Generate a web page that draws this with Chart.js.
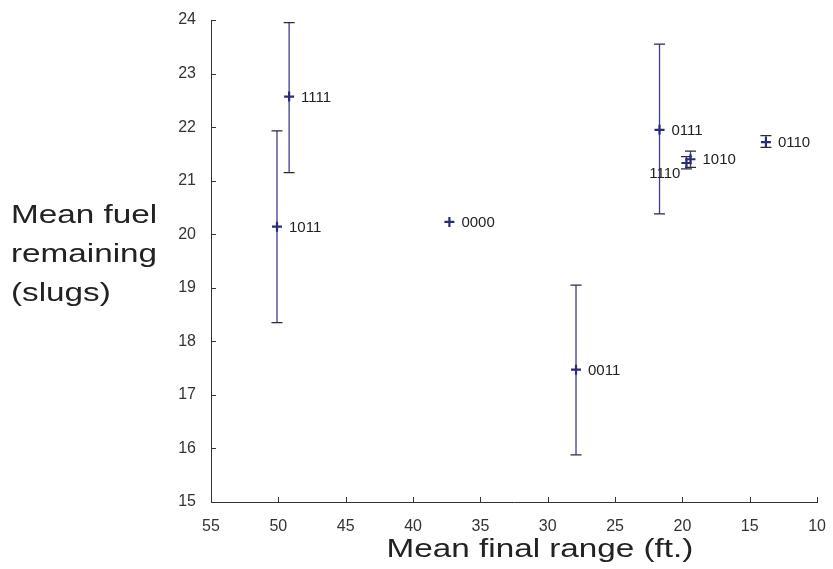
<!DOCTYPE html>
<html>
<head>
<meta charset="utf-8">
<script src="https://cdn.jsdelivr.net/npm/chart.js@4.4.1/dist/chart.umd.min.js"></script>
<style>
  html, body { margin: 0; padding: 0; background: #fff; }
  #wrap { width: 833px; height: 569px; }
</style>
</head>
<body>
<div id="wrap"><canvas id="chart" width="833" height="569"></canvas></div>
<script>
// Designs (bit strings) with mean final range, mean fuel and error bar ends
const designs   = ['1111', '1011', '0000', '0011', '0111', '1110', '1010', '0110'];
const rangeFt   = [49.2, 50.1, 37.3, 27.9, 21.7, 19.7, 19.4, 13.8];
const fuelMean  = [22.57, 20.14, 20.23, 17.47, 21.95, 21.33, 21.40, 21.72];
const fuelLow   = [21.15, 18.35, 20.23, 15.88, 20.38, 21.22, 21.25, 21.62];
const fuelHigh  = [23.95, 21.93, 20.23, 19.05, 23.55, 21.45, 21.55, 21.84];
const labelSide = ['right', 'right', 'right', 'right', 'right', 'left', 'right', 'right'];
const yTitle    = ['Mean fuel', 'remaining', '(slugs)'];
const xTitle    = 'Mean final range (ft.)';

const points = designs.map((d, i) => ({ x: rangeFt[i], y: fuelMean[i] }));

const axisColor = '#333';
const markColor = '#2b2b78';
const titleFont = '25px "Liberation Sans", Arial, sans-serif';

// error bars, inward ticks, point labels and the titles
const errorBars = {
    id: 'errorBars',
    beforeDatasetsDraw(chart) {
        const { ctx, scales: { x, y } } = chart;
        ctx.save();
        designs.forEach((d, i) => {
            if (fuelHigh[i] === fuelLow[i]) return;
            const px = x.getPixelForValue(rangeFt[i]);
            const top = y.getPixelForValue(fuelHigh[i]);
            const bot = y.getPixelForValue(fuelLow[i]);
            ctx.strokeStyle = '#3d3d8a';
            ctx.lineWidth = 1.3;
            ctx.beginPath();
            ctx.moveTo(px, top);
            ctx.lineTo(px, bot);
            ctx.stroke();
            ctx.strokeStyle = '#2a2a3a';
            ctx.beginPath();
            ctx.moveTo(px - 5.5, top); ctx.lineTo(px + 5.5, top);
            ctx.moveTo(px - 5.5, bot); ctx.lineTo(px + 5.5, bot);
            ctx.stroke();
        });
        ctx.restore();
    },
    afterDraw(chart) {
        const { ctx, scales: { x, y }, chartArea } = chart;
        ctx.save();
        // inward ticks
        ctx.strokeStyle = axisColor;
        ctx.lineWidth = 1;
        ctx.beginPath();
        x.ticks.forEach(t => {
            const px = Math.round(x.getPixelForValue(t.value)) + 0.5;
            ctx.moveTo(px, chartArea.bottom);
            ctx.lineTo(px, chartArea.bottom - 5);
        });
        y.ticks.forEach(t => {
            const py = Math.round(y.getPixelForValue(t.value)) + 0.5;
            ctx.moveTo(chartArea.left, py);
            ctx.lineTo(chartArea.left + 5, py);
        });
        ctx.stroke();

        // point labels
        ctx.fillStyle = '#222';
        ctx.font = '15px "Liberation Sans", Arial, sans-serif';
        ctx.textBaseline = 'middle';
        designs.forEach((d, i) => {
            const px = x.getPixelForValue(rangeFt[i]);
            const py = y.getPixelForValue(fuelMean[i]);
            if (labelSide[i] === 'left') {
                ctx.textAlign = 'right';
                ctx.fillText(d, px - 6, py + 11);
            } else {
                ctx.textAlign = 'left';
                ctx.fillText(d, px + 12, py + 1);
            }
        });

        // titles, stretched sideways like the source
        ctx.fillStyle = '#222';
        ctx.font = titleFont;
        ctx.textBaseline = 'alphabetic';
        ctx.textAlign = 'left';
        yTitle.forEach((line, k) => {
            ctx.save();
            ctx.translate(11, 223 + k * 39);
            ctx.scale(1.33, 1);
            ctx.fillText(line, 0, 0);
            ctx.restore();
        });
        ctx.save();
        ctx.translate(540, 557);
        ctx.scale(1.33, 1);
        ctx.textAlign = 'center';
        ctx.fillText(xTitle, 0, 0);
        ctx.restore();
        ctx.restore();
    }
};

const tickFont = { family: '"Liberation Sans", Arial, sans-serif', size: 16 };

new Chart(document.getElementById('chart').getContext('2d'), {
    type: 'scatter',
    data: {
        datasets: [{
            data: points,
            pointStyle: 'cross',
            pointRadius: 5,
            pointBorderWidth: 2.2,
            borderColor: markColor,
            backgroundColor: markColor,
            pointHoverRadius: 5
        }]
    },
    options: {
        responsive: false,
        animation: false,
        layout: { padding: { left: 0, right: 10, top: 20, bottom: 0 } },
        plugins: {
            legend: { display: false },
            tooltip: { enabled: false }
        },
        scales: {
            x: {
                type: 'linear',
                reverse: true,
                min: 10,
                max: 55,
                grid: { display: false },
                border: { display: true, color: axisColor, width: 1 },
                ticks: { stepSize: 5, color: '#333', font: tickFont, padding: 7, maxRotation: 0 },
                afterFit(scale) { scale.height = 67; }
            },
            y: {
                type: 'linear',
                min: 15,
                max: 24,
                grid: { display: false },
                border: { display: true, color: axisColor, width: 1 },
                ticks: { stepSize: 1, color: '#333', font: tickFont, padding: 7 },
                afterFit(scale) { scale.width = 211; }
            }
        }
    },
    plugins: [errorBars]
});
</script>
</body>
</html>
